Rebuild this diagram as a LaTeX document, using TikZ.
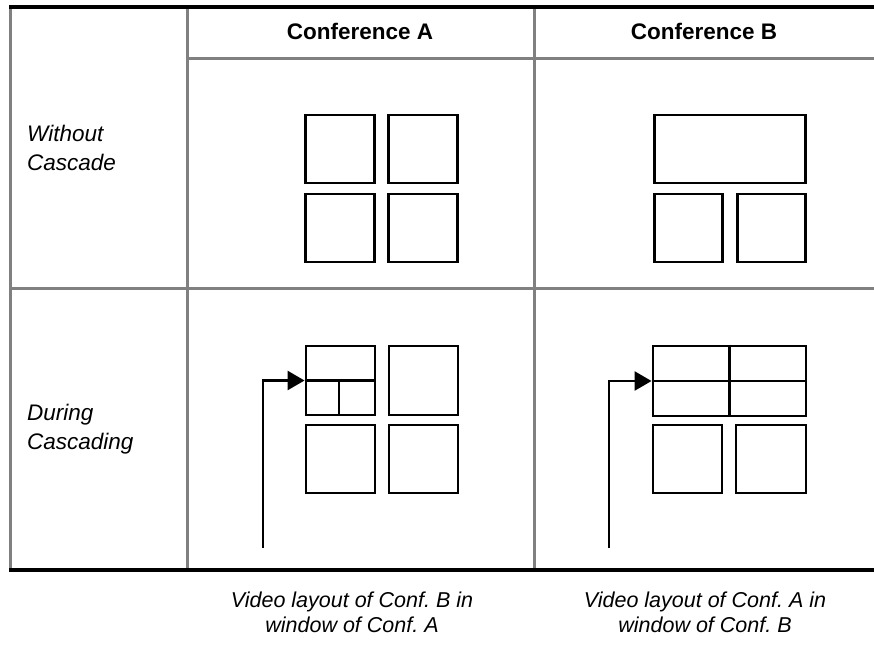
\documentclass[tikz,border=0pt]{standalone}
\usepackage{fontspec}
\setmainfont{Liberation Sans}
\usetikzlibrary{arrows.meta}
\definecolor{rulegray}{RGB}{128,128,128}
\frenchspacing

\begin{document}
\begin{tikzpicture}[
  x=1pt, y=-1pt,
  grid/.style={draw=rulegray,line width=3pt},
  frame/.style={draw=black,line width=3.2pt},
  win/.style={rectangle,draw,line width=2.9pt,inner sep=0pt,minimum width=69pt,minimum height=68pt},
  wide/.style={win,minimum width=151pt},
  head/.style={font=\fontsize{22.5}{26}\selectfont\bfseries},
  lab/.style={font=\fontsize{22.5}{29}\selectfont\itshape,align=left,anchor=west,inner sep=0pt},
  legend/.style={font=\fontsize{21.5}{25}\selectfont\itshape,align=center},
  feed/.style={draw,line width=2.6pt,-{Triangle[length=17pt,width=19pt]}} % <-- flèche
]
\useasboundingbox (0,0) rectangle (874,661);

% table
\draw[grid] (10,7) -- (10,570);
\draw[grid] (187,7) -- (187,570);
\draw[grid] (534,7) -- (534,570);
\draw[grid] (187,58) -- (874,58);
\draw[grid] (10,288) -- (874,288);
\draw[frame] (9,7) -- (874,7);
\draw[frame] (9,570) -- (874,570);

\node[head] (confA) at (360,31) {Conference A};
\node[head] (confB) at (704,31) {Conference B};
\node[lab] (without) at (27,148) {Without\\Cascade};
\node[lab] (during) at (27,429) {During\\Cascading};

% sans cascade
\node[win] (a1) at (340,149) {};
\node[win] (a2) at (423,149) {};
\node[win] (a3) at (340,228) {};
\node[win] (a4) at (423,228) {};

\node[wide] (b1) at (730,149) {};
\node[win,minimum width=68pt] (b2) at (688.5,228) {};
\node[win,minimum width=68pt] (b3) at (771.5,228) {};

% en cascade
\node[win,minimum height=69pt] (ca1) at (340.5,380.5) {};
\draw[line width=2.9pt] (ca1.west) -- (ca1.east);
\draw[line width=2.9pt] (339,380.5) -- (339,415);
\node[win,minimum height=69pt] (ca2) at (423.5,380.5) {};
\node[win] (ca3) at (340.5,459) {};
\node[win] (ca4) at (423.5,459) {};

\node[win,minimum width=153pt,minimum height=70pt] (cb1) at (729.5,381) {};
\draw[line width=2.9pt] (cb1.west) -- (cb1.east);
\draw[line width=2.9pt] (cb1.north) -- (cb1.south);
\node[win] (cb2) at (687.5,459) {};
\node[win,minimum width=70pt] (cb3) at (771,459) {};

\coordinate (srcA) at (263,548);
\coordinate (srcB) at (609,548);
\draw[feed] (srcA) |- (ca1.west);
\draw[feed] (srcB) |- (cb1.west);

\node[legend] (capA) at (352,612) {Video layout of Conf. B in\\window of Conf. A};
\node[legend] (capB) at (705,612) {Video layout of Conf. A in\\window of Conf. B};

\end{tikzpicture}
\end{document}
